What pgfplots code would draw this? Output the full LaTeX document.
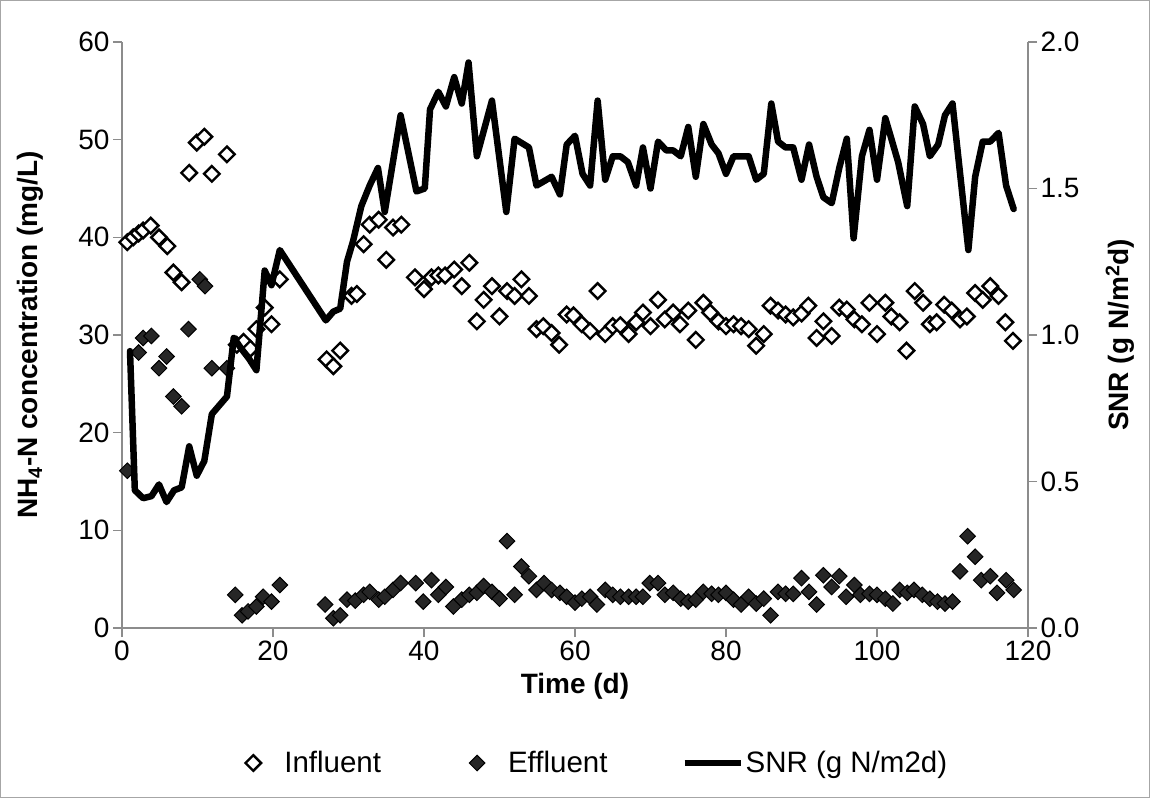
\documentclass[border=0pt]{standalone}
\usepackage{fontspec}
\setmainfont{Liberation Sans}
\usepackage{pgfplots}
\usepackage{pgfplotstable}
\pgfplotsset{compat=1.18}

\pgfplotstableread{
d c
0.7 39.5
1.5 40.0
2.2 40.4
2.8 40.7
3.8 41.2
4.9 40.0
6.0 39.1
6.8 36.4
7.9 35.4
8.9 46.6
9.9 49.7
10.9 50.3
11.9 46.5
13.9 48.5
15.2 29.0
16.1 29.3
17.0 28.6
17.8 30.6
18.9 32.8
19.8 31.1
20.9 35.7
27.1 27.5
28.0 26.8
28.9 28.4
30.4 34.0
31.1 34.2
32.0 39.3
32.8 41.3
34.0 41.8
35.0 37.7
35.9 41.0
37.0 41.3
38.8 35.9
40.0 34.7
41.0 35.9
41.9 36.1
42.8 36.1
44.0 36.7
45.0 35.0
46.0 37.4
47.0 31.4
47.9 33.6
49.0 35.0
50.0 31.9
51.0 34.5
52.0 34.0
52.9 35.7
53.9 34.0
54.9 30.6
55.8 30.9
56.9 30.2
57.9 29.0
58.9 32.1
59.8 32.0
60.9 31.1
62.0 30.4
63.0 34.5
64.0 30.1
65.0 30.9
66.0 31.0
67.1 30.1
68.1 31.3
69.0 32.3
70.0 30.9
71.0 33.6
71.9 31.6
73.0 32.3
73.9 31.1
75.0 32.5
76.0 29.5
77.0 33.3
77.9 32.3
79.0 31.4
80.0 30.9
81.0 31.1
82.0 30.9
83.0 30.6
84.0 28.9
85.0 30.1
85.9 33.0
86.9 32.5
87.9 32.1
88.9 31.8
90.0 32.2
90.9 33.0
92.0 29.7
92.9 31.4
94.0 29.9
95.0 32.8
96.0 32.6
97.0 31.6
98.0 31.1
99.0 33.3
100.0 30.1
101.1 33.3
101.9 31.9
103.0 31.3
103.9 28.4
105.0 34.5
106.1 33.3
107.0 31.1
107.9 31.3
108.9 33.1
109.9 32.5
111.0 31.6
111.9 31.9
113.0 34.3
114.0 33.6
115.0 35.0
116.1 34.0
117.0 31.3
118.0 29.4
}\influent

\pgfplotstableread{
d c
0.7 16.1
2.2 28.2
2.8 29.7
3.9 29.9
4.9 26.6
5.9 27.8
6.8 23.7
7.9 22.7
8.8 30.6
10.3 35.7
11.0 35.0
11.9 26.6
13.9 26.6
15.0 3.4
15.9 1.3
16.7 1.7
17.8 2.2
18.7 3.2
19.8 2.7
20.9 4.4
26.9 2.4
28.0 1.0
28.9 1.3
29.8 2.9
30.9 2.8
32.0 3.4
32.8 3.7
34.0 2.9
34.8 3.2
35.9 3.9
36.9 4.6
38.9 4.6
39.9 2.7
41.0 4.9
41.9 3.4
42.9 4.2
43.9 2.2
45.0 2.9
46.0 3.4
47.0 3.6
47.9 4.3
49.0 3.7
50.0 3.0
51.0 8.9
52.0 3.4
52.9 6.3
53.9 5.3
54.9 3.9
55.9 4.6
56.9 3.9
58.0 3.6
58.9 3.2
60.0 2.6
60.9 3.0
62.0 3.2
62.9 2.4
64.0 3.9
65.0 3.4
66.0 3.2
67.1 3.2
68.1 3.2
69.0 3.2
69.9 4.6
71.0 4.6
71.9 3.4
73.0 3.6
74.0 3.0
75.0 2.7
76.0 2.9
77.0 3.7
78.1 3.5
79.0 3.4
80.0 3.6
81.0 2.9
82.0 2.4
83.0 3.2
84.0 2.5
85.0 3.0
85.9 1.3
86.9 3.7
87.9 3.5
88.9 3.5
90.0 5.1
91.0 3.7
92.0 2.4
92.9 5.4
94.0 4.2
95.0 5.3
95.9 3.2
97.0 4.4
97.8 3.4
99.0 3.5
100.0 3.4
101.1 3.0
102.1 2.5
103.0 3.9
104.0 3.6
104.9 3.9
106.0 3.4
107.0 3.0
108.0 2.7
109.0 2.5
110.0 2.7
111.0 5.8
112.0 9.4
113.0 7.3
113.8 4.9
115.0 5.3
115.9 3.6
117.1 4.9
118.1 3.9
}\effluent

\pgfplotstableread{
d s
1.06 0.945
1.7 0.47
2.8 0.443
3.9 0.45
4.9 0.49
5.9 0.43
6.9 0.47
7.9 0.48
8.9 0.62
9.9 0.52
10.9 0.57
11.9 0.73
13.9 0.79
14.8 0.99
15.9 0.95
16.8 0.92
17.8 0.88
18.9 1.22
19.8 1.17
20.9 1.29
27.0 1.05
28.0 1.08
28.9 1.09
29.8 1.25
30.6 1.32
31.7 1.44
32.8 1.51
33.9 1.57
34.8 1.42
36.9 1.75
39.0 1.49
40.1 1.50
40.8 1.77
41.9 1.83
42.9 1.78
44.0 1.88
45.0 1.79
45.9 1.93
47.0 1.61
49.0 1.80
50.9 1.42
52.0 1.67
53.9 1.64
54.9 1.51
56.9 1.54
58.0 1.48
58.9 1.65
60.0 1.68
61.0 1.55
62.0 1.51
63.0 1.80
64.0 1.53
65.0 1.61
66.0 1.61
67.0 1.59
68.1 1.51
69.0 1.64
70.0 1.50
71.0 1.66
72.1 1.63
73.0 1.63
74.0 1.61
75.0 1.71
76.0 1.54
77.0 1.72
78.1 1.65
79.0 1.62
80.0 1.55
81.0 1.61
82.0 1.61
83.0 1.61
84.0 1.53
85.0 1.55
86.0 1.79
86.9 1.66
87.9 1.64
88.9 1.64
90.0 1.53
91.0 1.65
92.0 1.54
92.9 1.47
94.0 1.45
95.0 1.57
96.0 1.67
96.9 1.33
98.0 1.61
99.0 1.70
100.0 1.53
101.1 1.74
101.9 1.67
102.8 1.59
104.0 1.44
105.0 1.78
106.1 1.72
107.0 1.61
108.1 1.65
109.0 1.75
110.0 1.79
112.1 1.29
113.0 1.54
114.0 1.66
115.0 1.66
116.1 1.69
117.1 1.51
118.1 1.43
}\snr

\pgfplotsset{
  common/.style={
    scale only axis, width=906pt, height=586pt,
    xmin=0, xmax=120,
    /pgf/number format/assume math mode=true,
    tick label style={font=\fontsize{28}{33}\selectfont},
    label style={font=\bfseries\fontsize{28}{33}\selectfont},
    tick align=outside, major tick length=9pt,
    every tick/.style={gray!90, line width=1.3pt},
    axis line style={gray!90, line width=1.6pt},
  },
  marklegend/.style={legend image code/.code={%
    \path[draw=none, fill=none] (-9pt,-9pt) rectangle (29pt,9pt);
    \draw[##1] plot coordinates {(0pt,0pt)};}},
  snrlegend/.style={legend image code/.code={%
    \path[draw=none, fill=none] (-28pt,-3pt) rectangle (28pt,3pt);
    \draw[line width=6pt, black] (-28pt,0pt) -- (28pt,0pt);}},
}

\begin{document}
\begin{tikzpicture}
\begin{axis}[common,
  axis x line*=bottom, axis y line*=left,
  ymin=0, ymax=60, ytick={0,10,...,60}, xtick={0,20,...,120},
  xlabel={Time (d)},
  ylabel={NH\textsubscript{4}-N concentration (mg/L)},
  xlabel style={at={(axis description cs:0.5,-0.099)}, anchor=center},
  ylabel style={at={(axis description cs:-0.1015,0.5)}, anchor=center},
  legend columns=3,
  legend style={at={(axis description cs:0.524,-0.2304)}, anchor=center,
    draw=none, fill=none, font=\fontsize{29.5}{34}\selectfont,
    /tikz/column 2/.style={column sep=85pt},
    /tikz/column 4/.style={column sep=72pt}},
]
\addplot[only marks, mark=square*, mark size=5.5pt, marklegend,
  mark options={rotate=45, draw=black, fill=white, line width=2.4pt}]
  table[x=d, y=c] {\influent};
\addlegendentry{Influent}
\addplot[only marks, mark=square*, mark size=5.5pt, marklegend,
  mark options={rotate=45, draw=black, fill=black!85, line width=1pt}]
  table[x=d, y=c] {\effluent};
\addlegendentry{Effluent}
\addlegendimage{snrlegend}
\addlegendentry{SNR (g N/m2d)}
\end{axis}
\begin{axis}[common,
  axis x line=none, axis y line*=right,
  ymin=0, ymax=2, ytick={0,0.5,...,2},
  yticklabel style={/pgf/number format/.cd, fixed, fixed zerofill, precision=1},
  ylabel={SNR (g N/m\textsuperscript{2}d)},
  ylabel style={at={(axis description cs:1.1015,0.5)}, anchor=center},
]
\addplot[black, line width=6.5pt, line join=round, line cap=round, no marks]
  table[x=d, y=s] {\snr};
\end{axis}
\draw[gray!70, line width=1.5pt] (-121.25pt,-169.25pt) rectangle (1027.25pt,627.25pt);
\end{tikzpicture}
\end{document}
